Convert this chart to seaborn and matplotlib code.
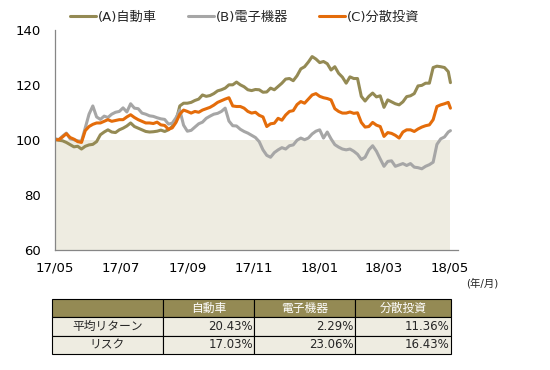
import numpy as np
import pandas as pd
import matplotlib
matplotlib.use('Agg')
import matplotlib.pyplot as plt
import matplotlib.dates as mdates
from matplotlib.table import Table
import seaborn as sns

# ---------------- data ----------------
series_names = ['(A)自動車', '(B)電子機器', '(C)分散投資']

auto = [100.3, 100.0, 99.8, 99.2, 98.4, 97.6, 97.8, 96.8, 97.8, 98.3,
        98.5, 99.5, 102.0, 103.0, 103.8, 103.0, 102.8, 103.8, 104.4, 105.2,
        106.3, 105.0, 104.4, 103.8, 103.2, 103.0, 103.1, 103.3, 103.7, 103.2,
        103.8, 105.0, 107.0, 112.5, 113.5, 113.5, 113.8, 114.5, 115.0, 116.5,
        116.0, 116.3, 117.0, 118.0, 118.4, 119.0, 120.2, 120.2, 121.2, 120.2,
        119.5, 118.4, 118.1, 118.5, 118.4, 117.5, 117.6, 119.0, 118.4, 119.6,
        120.8, 122.3, 122.5, 121.7, 123.5, 126.0, 126.8, 128.5, 130.5, 129.6,
        128.3, 128.7, 127.9, 125.6, 126.8, 124.4, 123.0, 120.8, 123.1, 122.5,
        122.5, 116.0, 114.3, 116.0, 117.2, 115.8, 116.2, 112.0, 114.7, 114.0,
        113.3, 112.9, 114.0, 115.9, 116.2, 117.0, 119.8, 120.0, 120.8, 120.8,
        126.5, 127.0, 126.8, 126.5, 125.0, 121.0]

elec = [100.6, 100.2, 101.5, 102.6, 100.5, 100.2, 99.8, 99.6, 104.5, 109.5,
        112.5, 108.5, 107.6, 108.8, 108.3, 109.5, 110.2, 110.5, 111.8, 110.3,
        113.3, 111.7, 111.5, 109.9, 109.5, 108.9, 108.7, 108.2, 107.8, 107.6,
        105.9, 106.2, 108.2, 111.0, 105.5, 103.3, 103.6, 104.8, 106.0, 106.6,
        108.0, 108.8, 109.5, 109.8, 110.5, 111.7, 107.0, 105.3, 105.2, 104.0,
        103.2, 102.6, 101.8, 101.0, 99.5, 96.5, 94.5, 93.8, 95.5, 96.5,
        97.3, 96.8, 98.0, 98.3, 100.0, 100.8, 100.2, 100.8, 102.3, 103.3,
        103.8, 100.8, 103.0, 100.5, 98.4, 97.5, 96.8, 96.5, 96.8, 96.0,
        94.9, 93.0, 93.8, 96.5, 98.0, 96.0, 93.2, 90.5, 92.3, 92.5,
        90.5, 91.0, 91.5, 90.8, 91.5, 90.2, 90.0, 89.6, 90.5, 91.1,
        92.0, 98.5, 100.5, 101.2, 103.0, 103.5]

diversified = [100.2, 100.2, 101.2, 102.4, 101.0, 100.4, 99.5, 99.2, 103.5, 105.0,
               105.8, 106.3, 106.3, 106.9, 107.5, 106.9, 107.2, 107.5, 107.5, 108.5,
               109.3, 108.3, 107.5, 106.9, 106.3, 106.3, 106.1, 106.6, 105.6, 105.4,
               104.0, 104.5, 106.5, 109.5, 111.0, 110.5, 109.9, 110.5, 110.2, 111.0,
               111.5, 112.0, 112.8, 113.8, 114.4, 115.0, 115.5, 112.5, 112.3, 112.3,
               111.7, 110.5, 109.9, 110.2, 109.1, 108.5, 105.0, 106.0, 106.2, 108.0,
               107.3, 109.2, 110.5, 110.8, 113.0, 114.1, 113.5, 115.0, 116.5, 117.0,
               116.0, 115.5, 115.2, 114.7, 111.5, 110.5, 109.9, 109.9, 110.3, 109.8,
               110.0, 106.5, 104.8, 105.0, 106.5, 105.5, 105.0, 101.4, 102.8, 102.5,
               101.8, 100.8, 103.0, 103.8, 103.8, 103.2, 104.1, 104.8, 105.3, 105.6,
               107.5, 112.3, 112.9, 113.3, 113.8, 111.7]

dates = list(pd.date_range('2017-05-01', periods=105, freq='84h')) + [pd.Timestamp('2018-05-02')]

table_header = ['', '自動車', '電子機器', '分散投資']
table_rows = ['平均リターン', 'リスク']
avg_return = ['20.43%', '2.29%', '11.36%']
risk = ['17.03%', '23.06%', '16.43%']

# ---------------- style ----------------
GOLD = '#948A54'
GRAY = '#A6A6A6'
ORANGE = '#E46C0A'
BEIGE = '#EEECE1'
AXIS = '#868686'

sns.set_style('white')
plt.rcParams['font.family'] = ['DejaVu Sans', 'Noto Sans CJK JP']

df = pd.DataFrame({
    'date': dates * 3,
    'value': auto + elec + diversified,
    'series': [series_names[0]] * len(dates) + [series_names[1]] * len(dates)
              + [series_names[2]] * len(dates),
})

fig = plt.figure(figsize=(5.5, 3.7), dpi=100)
ax = fig.add_axes([55 / 550, 1 - 250 / 370, 403 / 550, 219.5 / 370])

# shaded zone below 100
ax.fill_between([dates[0], dates[-1]], 60, 100, color=BEIGE, linewidth=0, zorder=0)

sns.lineplot(data=df, x='date', y='value', hue='series', hue_order=series_names,
             palette=[GOLD, GRAY, ORANGE], linewidth=2.2, ax=ax, legend=True)

ax.set_xlim(pd.Timestamp('2017-05-01'), pd.Timestamp('2018-05-09'))
ax.set_ylim(60, 140)
ax.set_yticks([60, 80, 100, 120, 140])
ax.xaxis.set_major_locator(mdates.MonthLocator(bymonth=[1, 3, 5, 7, 9, 11]))
ax.xaxis.set_major_formatter(mdates.DateFormatter('%y/%m'))
ax.set_xlabel('')
ax.set_ylabel('')

for s in ['top', 'right']:
    ax.spines[s].set_visible(False)
for s in ['left', 'bottom']:
    ax.spines[s].set_color(AXIS)
    ax.spines[s].set_linewidth(0.9)
ax.tick_params(axis='both', direction='in', length=3, width=0.8, color=AXIS,
               labelsize=9.5, labelcolor='black')
ax.tick_params(axis='x', pad=8)
ax.tick_params(axis='y', pad=10)

sns.move_legend(ax, 'center left', bbox_to_anchor=(70 / 550, 1 - 17 / 370),
                bbox_transform=fig.transFigure, ncol=3, frameon=False, title=None,
                fontsize=9.5, handlelength=2.0, handletextpad=0.15, columnspacing=2.3,
                borderaxespad=0, borderpad=0)

fig.text(466 / 550, 1 - 283 / 370, '(年/月)', fontsize=7.5, va='center', ha='left')

# ---------------- table ----------------
tax = fig.add_axes([51.7 / 550, 1 - 354 / 370, 399 / 550, 55 / 370])
tax.axis('off')
tb = Table(tax, bbox=[0, 0, 1, 1])
col_w = [111.6, 91.0, 100.7, 95.7]
for c, txt in enumerate(table_header):
    cell = tb.add_cell(0, c, width=col_w[c], height=1, text=txt, loc='center',
                       facecolor=GOLD, edgecolor='black')
    cell.set_linewidth(0.8)
    cell.get_text().set_color('white')
body = [[table_rows[0]] + avg_return, [table_rows[1]] + risk]
for r, row in enumerate(body, start=1):
    for c, txt in enumerate(row):
        cell = tb.add_cell(r, c, width=col_w[c], height=1, text=txt,
                           loc='center' if c == 0 else 'right',
                           facecolor=BEIGE, edgecolor='black')
        cell.set_linewidth(0.8)
        cell.PAD = 0.012
tb.auto_set_font_size(False)
tb.set_fontsize(8.5)
tax.add_table(tb)

fig.savefig('out.png', dpi=100)
